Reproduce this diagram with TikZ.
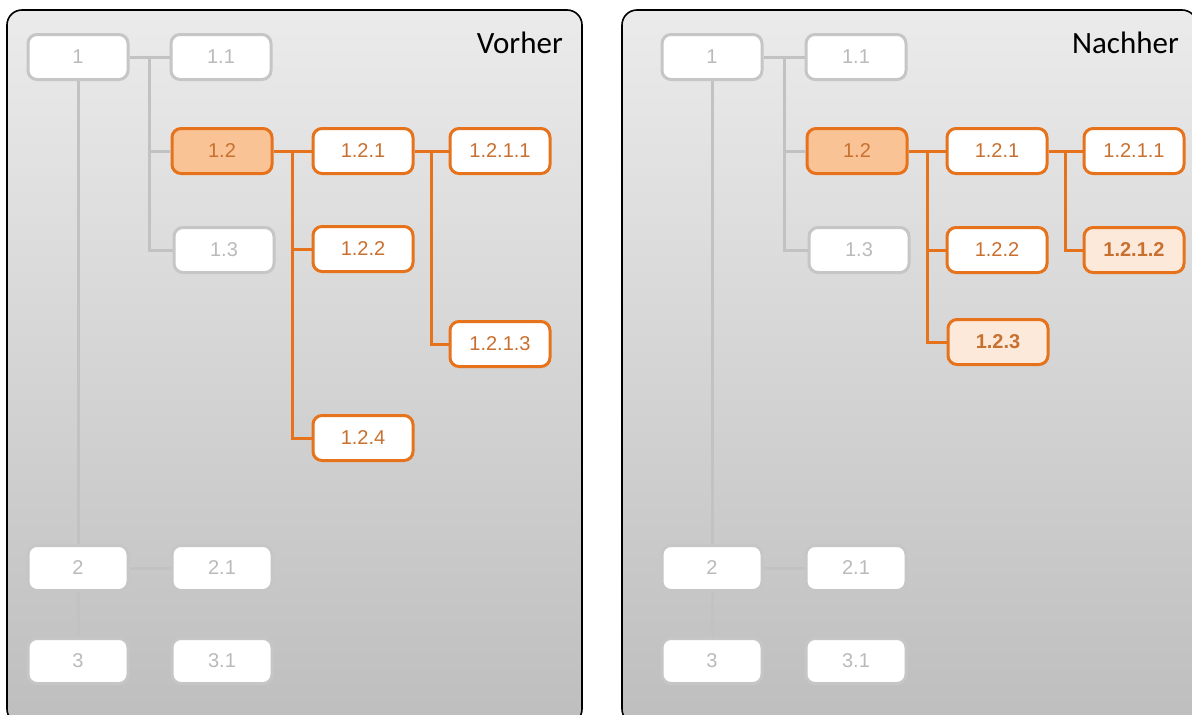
\documentclass[tikz,border=0pt]{standalone}
\usepackage{fontspec}
\setmainfont{Liberation Sans}
\newfontfamily\titlefont{Carlito}
\usetikzlibrary{calc}
\definecolor{panelTop}{HTML}{EBEBEB}
\definecolor{panelBot}{HTML}{BEBEBE}
\definecolor{gborder}{HTML}{C6C6C6}
\definecolor{gtext}{HTML}{BABABA}
\definecolor{gline}{HTML}{C2C2C2}
\definecolor{oborder}{HTML}{E6731C}
\definecolor{otext}{HTML}{C8702F}
\definecolor{ofill}{HTML}{F9C396}
\definecolor{nfill}{HTML}{FDE9D9}
\tikzset{
  box/.style={rounded corners=9pt, line width=3pt, minimum width=100pt, minimum height=45pt,
    inner sep=0pt, font=\fontsize{20}{20}\selectfont},
  gnode/.style={box, draw=gborder, fill=white, text=gtext},
  onode/.style={box, draw=oborder, fill=white, text=otext},
  hnode/.style={box, draw=oborder, fill=ofill, text=otext},
  nnode/.style={box, draw=oborder, fill=nfill, text=otext, font=\fontsize{20}{20}\selectfont\bfseries},
  gconn/.style={draw=gline, line width=3pt},
  oconn/.style={draw=oborder, line width=3pt},
  panel/.style={draw=black, line width=1.6pt, rounded corners=15pt, top color=panelTop, bottom color=panelBot},
  ptitle/.style={font=\titlefont\fontsize{31}{31}\selectfont, anchor=base east, inner sep=0pt}
}
\begin{document}
\begin{tikzpicture}[x=1pt,y=-1pt]
\useasboundingbox (0,0) rectangle (1192,715);
\clip (0,0) rectangle (1192,715);
\fill[white] (0,0) rectangle (1192,715);
% panels
\shade[panel] (7,10) rectangle (582,724);
\shade[panel] (622,10) rectangle (1197,724);
\node[ptitle] (tl) at (563,53) {Vorher};
\node[ptitle] (tr) at (1179,53) {Nachher};

% ---------- left panel ----------
\node[gnode] (a1) at (78,57) {1};
\node[gnode] (a11) at (221,57) {1.1};
\node[hnode] (a12) at (222,151) {1.2};
\node[gnode] (a13) at (224,250) {1.3};
\node[onode] (a121) at (363,151) {1.2.1};
\node[onode] (a1211) at (500,151) {1.2.1.1};
\node[onode] (a122) at (363,249) {1.2.2};
\node[onode] (a1213) at (500,344) {1.2.1.3};
\node[onode] (a124) at (363,438) {1.2.4};
\node[gnode] (a2) at (78,568) {2};
\node[gnode] (a21) at (222,568) {2.1};
\node[gnode] (a3) at (78,661) {3};
\node[gnode] (a31) at (222,661) {3.1};

\draw[gconn] (a1.east) -- (a11.west);
\coordinate (ja) at ($(a1.east)!0.5!(a11.west)$);
\draw[gconn] (ja) |- (a12.west);
\draw[gconn] (ja) |- (a13.west);
\draw[gconn] (a1.south) -- (a2.north);
\draw[gconn] (a2.east) -- (a21.west);
\draw[gconn] (a2.south) -- (a3.north);
\draw[gconn] (a3.east) -- (a31.west);
\draw[oconn] (a12.east) -- (a121.west);
\coordinate (jb) at ($(a12.east)!0.5!(a121.west)$);
\draw[oconn] (jb) |- (a122.west);
\draw[oconn] (jb) |- (a124.west);
\draw[oconn] (a121.east) -- (a1211.west);
\coordinate (jc) at ($(a121.east)!0.5!(a1211.west)$);
\draw[oconn] (jc) |- (a1213.west);

% ---------- right panel ----------
\node[gnode] (b1) at (712,57) {1};
\node[gnode] (b11) at (856,57) {1.1};
\node[hnode] (b12) at (857,151) {1.2};
\node[gnode] (b13) at (859,250) {1.3};
\node[onode] (b121) at (997,151) {1.2.1};
\node[onode] (b1211) at (1134,151) {1.2.1.1};
\node[onode] (b122) at (997,250) {1.2.2};
\node[nnode] (b1212) at (1134,250) {1.2.1.2};
\node[nnode] (b123) at (998,342) {1.2.3};
\node[gnode] (b2) at (712,568) {2};
\node[gnode] (b21) at (856,568) {2.1};
\node[gnode] (b3) at (712,661) {3};
\node[gnode] (b31) at (856,661) {3.1};

\draw[gconn] (b1.east) -- (b11.west);
\coordinate (jd) at ($(b1.east)!0.5!(b11.west)$);
\draw[gconn] (jd) |- (b12.west);
\draw[gconn] (jd) |- (b13.west);
\draw[gconn] (b1.south) -- (b2.north);
\draw[gconn] (b2.east) -- (b21.west);
\draw[gconn] (b2.south) -- (b3.north);
\draw[gconn] (b3.east) -- (b31.west);
\draw[oconn] (b12.east) -- (b121.west);
\coordinate (je) at ($(b12.east)!0.5!(b121.west)$);
\draw[oconn] (je) |- (b122.west);
\draw[oconn] (je) |- (b123.west);
\draw[oconn] (b121.east) -- (b1211.west);
\coordinate (jf) at ($(b121.east)!0.5!(b1211.west)$);
\draw[oconn] (jf) |- (b1212.west);
\end{tikzpicture}
\end{document}
